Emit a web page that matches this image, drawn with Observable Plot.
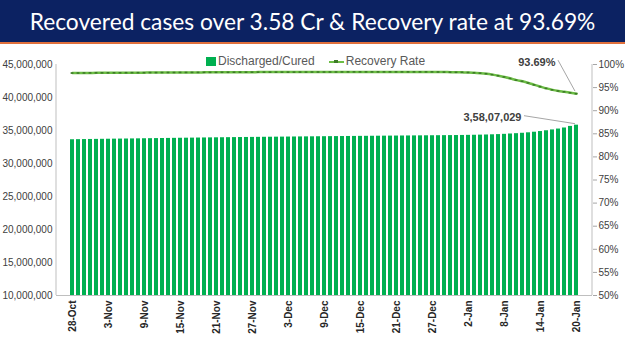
<!DOCTYPE html>
<html>
<head>
<meta charset="utf-8">
<script src="https://cdn.jsdelivr.net/npm/d3@7"></script>
<script src="https://cdn.jsdelivr.net/npm/@observablehq/plot@0.6"></script>
<style>
  body { margin: 0; background: #fff; width: 625px; height: 351px; overflow: hidden; font-family: "Liberation Sans", Arial, sans-serif; }
  #banner { height: 42px; background: #0c2262; border-bottom: 2px solid #e0703c; display: flex; align-items: center; justify-content: center; }
  #banner span { color: #fff; font-family: Lato, "Open Sans", sans-serif; font-weight: 400; font-size: 23px; white-space: nowrap; }
  #chart { position: relative; width: 625px; height: 307px; }
  .legend { position: absolute; top: 10px; left: 206px; display: flex; align-items: center; font-size: 12px; color: #595959; white-space: nowrap; }
  .sw { display: inline-block; width: 10px; height: 9px; background: #00b050; margin-right: 2px; }
  .ln { display: inline-block; position: relative; width: 15px; height: 9px; margin: 0 2px 0 14px; }
  .ln::before { content: ""; position: absolute; left: 0; right: 0; top: 4px; height: 2px; background: #6cbd45; }
  .ln::after { content: ""; position: absolute; left: 5px; width: 4px; top: 3px; height: 3px; background: #3d7a28; }
</style>
</head>
<body>
<div id="banner"><span id="title">Recovered cases over 3.58 Cr &amp; Recovery rate at 93.69%</span></div>
<div id="chart">
  <div class="legend"><span class="sw"></span>Discharged/Cured<span class="ln"></span>Recovery Rate</div>
</div>
<script>
// ---- Data ----
const startDate = "2021-10-28";
const endDate = "2022-01-21"; // exclusive
// Cumulative discharged/cured (persons), one value per day 28-Oct .. 20-Jan
const recoveredOct = [33600000, 33614000, 33628000, 33642000];
const recoveredNov = [33655000, 33667000, 33679000, 33691000, 33702000, 33713000, 33725000, 33737000, 33750000, 33762000,
                      33775000, 33788000, 33800000, 33812000, 33824000, 33836000, 33848000, 33860000, 33872000, 33883000,
                      33894000, 33904000, 33914000, 33925000, 33935000, 33945000, 33955000, 33964000, 33973000, 33982000];
const recoveredDec = [33991000, 34000000, 34009000, 34018000, 34027000, 34035000, 34044000, 34053000, 34061000, 34070000,
                      34078000, 34087000, 34095000, 34103000, 34112000, 34120000, 34128000, 34136000, 34144000, 34152000,
                      34160000, 34168000, 34175000, 34183000, 34191000, 34198000, 34206000, 34213000, 34221000, 34229000, 34237000];
const recoveredJan = [34250000, 34265000, 34280000, 34300000, 34320000, 34350000, 34380000, 34420000, 34470000, 34520000,
                      34580000, 34650000, 34740000, 34840000, 34960000, 35090000, 35220000, 35380000, 35619000, 35807029];
// Recovery rate (%), same days
const rateOct = [98.15, 98.16, 98.17, 98.18];
const rateNov = [98.19, 98.19, 98.20, 98.20, 98.21, 98.22, 98.23, 98.23, 98.24, 98.25,
                 98.25, 98.26, 98.27, 98.27, 98.28, 98.28, 98.29, 98.29, 98.30, 98.30,
                 98.31, 98.32, 98.32, 98.33, 98.34, 98.34, 98.34, 98.35, 98.35, 98.35];
const rateDec = [98.35, 98.35, 98.35, 98.35, 98.36, 98.36, 98.37, 98.37, 98.37, 98.38,
                 98.38, 98.39, 98.40, 98.40, 98.40, 98.40, 98.40, 98.40, 98.40, 98.40,
                 98.40, 98.40, 98.40, 98.40, 98.40, 98.40, 98.40, 98.38, 98.36, 98.34, 98.32];
const rateJan = [98.30, 98.27, 98.20, 98.13, 98.01, 97.81, 97.57, 97.30, 96.98, 96.62,
                 96.36, 96.01, 95.59, 95.20, 94.83, 94.51, 94.27, 94.09, 93.88, 93.69];
const xTickLabels = ["28-Oct", "3-Nov", "9-Nov", "15-Nov", "21-Nov", "27-Nov", "3-Dec", "9-Dec", "15-Dec", "21-Dec", "27-Dec", "2-Jan", "8-Jan", "14-Jan", "20-Jan"];
const leftTicks = [10000000, 15000000, 20000000, 25000000, 30000000, 35000000, 40000000, 45000000];
const rightTicks = [50, 55, 60, 65, 70, 75, 80, 85, 90, 95, 100];
const labelRecovered = "3,58,07,029";
const labelRate = "93.69%";

// ---- Build ----
const fmtDay = d3.utcFormat("%-d-%b");
const days = d3.utcDays(new Date(startDate), new Date(endDate)).map(fmtDay);
const recovered = [...recoveredOct, ...recoveredNov, ...recoveredDec, ...recoveredJan];
const rate = [...rateOct, ...rateNov, ...rateDec, ...rateJan];
const data = days.map((day, i) => ({day, recovered: recovered[i], rate: rate[i]}));
const yMin = leftTicks[0], yMax = leftTicks[leftTicks.length - 1];
const rMin = rightTicks[0], rMax = rightTicks[rightTicks.length - 1];
const rateToY = r => yMin + (r - rMin) / (rMax - rMin) * (yMax - yMin);
const yToRate = v => rMin + (v - yMin) / (yMax - yMin) * (rMax - rMin);
const last = data[data.length - 1];

const txt = "#404040";
const plot = Plot.plot({
  width: 625,
  height: 307,
  marginTop: 20,
  marginBottom: 56,
  marginLeft: 56,
  marginRight: 33,
  style: {fontFamily: "'Liberation Sans', Arial, sans-serif", fontSize: "10px", color: txt, background: "transparent"},
  x: {type: "band", domain: days, paddingInner: 0.35, paddingOuter: 0, label: null},
  y: {domain: [yMin, yMax], label: null},
  marks: [
    Plot.barY(data, {x: "day", y1: () => yMin, y2: "recovered", fill: "#00b050"}),
    Plot.ruleY([yMin], {stroke: "#bfbfbf", strokeWidth: 1}),
    Plot.line(data, {x: "day", y: d => rateToY(d.rate), stroke: "#6cbd45", strokeWidth: 2.5, curve: "monotone-x"}),
    Plot.tickY(data, {x: "day", y: d => rateToY(d.rate), stroke: "#3d7a28", strokeWidth: 1.6, insetLeft: 0.6, insetRight: 0.6}),
    Plot.axisY({anchor: "left", label: null, ticks: leftTicks, tickFormat: d3.format(","), tickSize: 0, tickPadding: 4, fontSize: 10}),
    Plot.axisY({anchor: "right", label: null, ticks: rightTicks.map(rateToY), tickFormat: v => Math.round(yToRate(v)) + "%", tickSize: 4, tickPadding: 2, stroke: "#a6a6a6", fontSize: 10}),
    Plot.axisX({label: null, ticks: xTickLabels, tickSize: 0, tickPadding: 5, tickRotate: -90, fontWeight: "bold", fontSize: 10, color: "#262626"}),
    Plot.text([last], {x: "day", y: d => rateToY(d.rate), text: () => labelRate, dx: -21, dy: -31, textAnchor: "end", fontWeight: "bold", fontSize: 11, fill: txt}),
    Plot.text([last], {x: "day", y: "recovered", text: () => labelRecovered, dx: -55, dy: -8, textAnchor: "end", fontWeight: "bold", fontSize: 11, fill: txt})
  ]
});
document.getElementById("chart").appendChild(plot);

// axis lines and leader lines (positions derived from the plot's scales)
const sx = plot.scale("x"), sy = plot.scale("y");
const svg = d3.select(plot);
const x0 = 56, x1 = 625 - 33, yTop = sy.apply(yMax), yBot = sy.apply(yMin);
svg.append("line").attr("x1", x0).attr("x2", x0).attr("y1", yTop).attr("y2", yBot).attr("stroke", "#bfbfbf");
svg.append("line").attr("x1", x1).attr("x2", x1).attr("y1", yTop).attr("y2", yBot).attr("stroke", "#bfbfbf");
const cx = sx.apply(last.day) + sx.bandwidth / 2;
const ry = sy.apply(rateToY(last.rate));
const by = sy.apply(last.recovered);
svg.append("line").attr("x1", cx - 18).attr("y1", ry - 33).attr("x2", cx - 1).attr("y2", ry - 2).attr("stroke", "#a6a6a6");
svg.append("line").attr("x1", cx - 52).attr("y1", by - 9).attr("x2", cx - 1).attr("y2", by - 1).attr("stroke", "#a6a6a6");

// fit title width
const t = document.getElementById("title");
const w = t.getBoundingClientRect().width;
t.style.fontSize = (23 * 566 / w).toFixed(2) + "px";
</script>
</body>
</html>
